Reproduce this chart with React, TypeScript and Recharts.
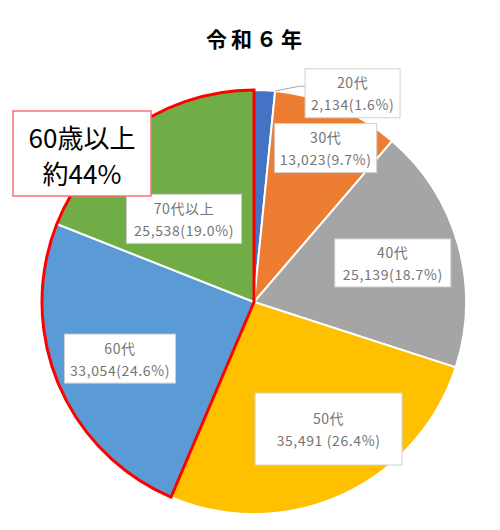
import { PieChart, Pie, Cell } from "recharts";

const chartTitle = "令和６年";
const ageGroups = ["20代", "30代", "40代", "50代", "60代", "70代以上"];
const counts = [2134, 13023, 25139, 35491, 33054, 25538];
const sliceColors = ["#4472C4", "#ED7D31", "#A5A5A5", "#FFC000", "#5B9BD5", "#70AD47"];
const seniorGroups = ["60代", "70代以上"];
const calloutLines = ["60歳以上", "約44%"];

const data = ageGroups.map((name, i) => ({ name, value: counts[i] }));
const total = counts.reduce((a, b) => a + b, 0);
const seniorTotal = data
  .filter((d) => seniorGroups.includes(d.name))
  .reduce((a, d) => a + d.value, 0);
const outlineData = [
  { name: "60歳未満", value: total - seniorTotal },
  { name: "60歳以上", value: seniorTotal },
];

// label box placement: radius ratio, pixel nudge, box size
const labelBoxes = [
  { k: 1, dx: 88, dy: 3, w: 95, h: 49, leader: true },
  { k: 0.8, dx: 5, dy: 2, w: 102, h: 49 },
  { k: 0.68, dx: 0, dy: 0, w: 116, h: 48 },
  { k: 0.7, dx: 13, dy: -8, w: 147, h: 72, gap: true },
  { k: 0.68, dx: -1, dy: 1, w: 111, h: 49 },
  { k: 0.52, dx: -8, dy: 8, w: 115, h: 49 },
];

const CX = 254;
const CY = 302;
const R = 212;
const RAD = Math.PI / 180;
const labelFont = "'Noto Sans CJK JP', sans-serif";

function renderLabel(props: any) {
  const { midAngle, endAngle, percent, index, value } = props;
  const b = labelBoxes[index];
  const x = CX + b.k * R * Math.cos(-midAngle * RAD) + b.dx;
  const y = CY + b.k * R * Math.sin(-midAngle * RAD) + b.dy;
  const pct = (percent * 100).toFixed(1);
  const line2 = `${Number(value).toLocaleString("en-US")}${b.gap ? " " : ""}(${pct}%)`;
  return (
    <g key={`lbl-${index}`}>
      {b.leader && (
        <polyline
          points={`${CX + R * Math.cos(-endAngle * RAD)},${CY + R * Math.sin(-endAngle * RAD)} ${x - b.w / 2 - 6},${y - 7} ${x - b.w / 2},${y - 7}`}
          fill="none"
          stroke="#a6a6a6"
          strokeWidth={1}
        />
      )}
      <rect
        x={x - b.w / 2}
        y={y - b.h / 2}
        width={b.w}
        height={b.h}
        fill="#fff"
        stroke="#d0d0d0"
        strokeWidth={1}
      />
      <text
        x={x}
        y={y - 11}
        textAnchor="middle"
        dominantBaseline="central"
        fontSize={14}
        fill="#757575"
        fontFamily={labelFont}
        letterSpacing={0.6}
      >
        {ageGroups[index]}
      </text>
      <text
        x={x}
        y={y + 11}
        textAnchor="middle"
        dominantBaseline="central"
        fontSize={14}
        fill="#757575"
        fontFamily={labelFont}
        letterSpacing={0.6}
      >
        {line2}
      </text>
    </g>
  );
}

export default function App() {
  return (
    <div style={{ position: "absolute", left: 0, top: 0, width: 500, height: 530, background: "#fff" }}>
      <PieChart width={500} height={530} margin={{ top: 0, right: 0, bottom: 0, left: 0 }}>
        <Pie
          data={data}
          dataKey="value"
          nameKey="name"
          cx={CX}
          cy={CY}
          outerRadius={R}
          startAngle={90}
          endAngle={-270}
          stroke="#fff"
          strokeWidth={2}
          label={renderLabel}
          labelLine={false}
          isAnimationActive={false}
        >
          {data.map((d, i) => (
            <Cell key={d.name} fill={sliceColors[i]} />
          ))}
        </Pie>
        <Pie
          data={outlineData}
          dataKey="value"
          nameKey="name"
          cx={CX}
          cy={CY}
          outerRadius={R}
          startAngle={90}
          endAngle={-270}
          isAnimationActive={false}
        >
          {outlineData.map((d, i) => (
            <Cell
              key={d.name}
              fill="none"
              stroke={i === 1 ? "#ff0000" : "none"}
              strokeWidth={i === 1 ? 3 : 0}
            />
          ))}
        </Pie>
      </PieChart>
      <svg
        width={500}
        height={530}
        style={{ position: "absolute", left: 0, top: 0, pointerEvents: "none" }}
      >
        <text
          x={256}
          y={38}
          textAnchor="middle"
          dominantBaseline="central"
          fontSize={21}
          fontWeight="bold"
          letterSpacing={4}
          fontFamily={labelFont}
          fill="#000"
        >
          {chartTitle}
        </text>
        <rect x={13} y={111} width={138} height={85} fill="#fff" stroke="#ff6f6f" strokeWidth={1.5} />
        <text
          x={82}
          y={136}
          textAnchor="middle"
          dominantBaseline="central"
          fontSize={26}
          fontFamily={labelFont}
          fill="#000"
        >
          {calloutLines[0]}
        </text>
        <text
          x={82}
          y={172}
          textAnchor="middle"
          dominantBaseline="central"
          fontSize={26}
          fontFamily={labelFont}
          fill="#000"
        >
          {calloutLines[1]}
        </text>
      </svg>
    </div>
  );
}
